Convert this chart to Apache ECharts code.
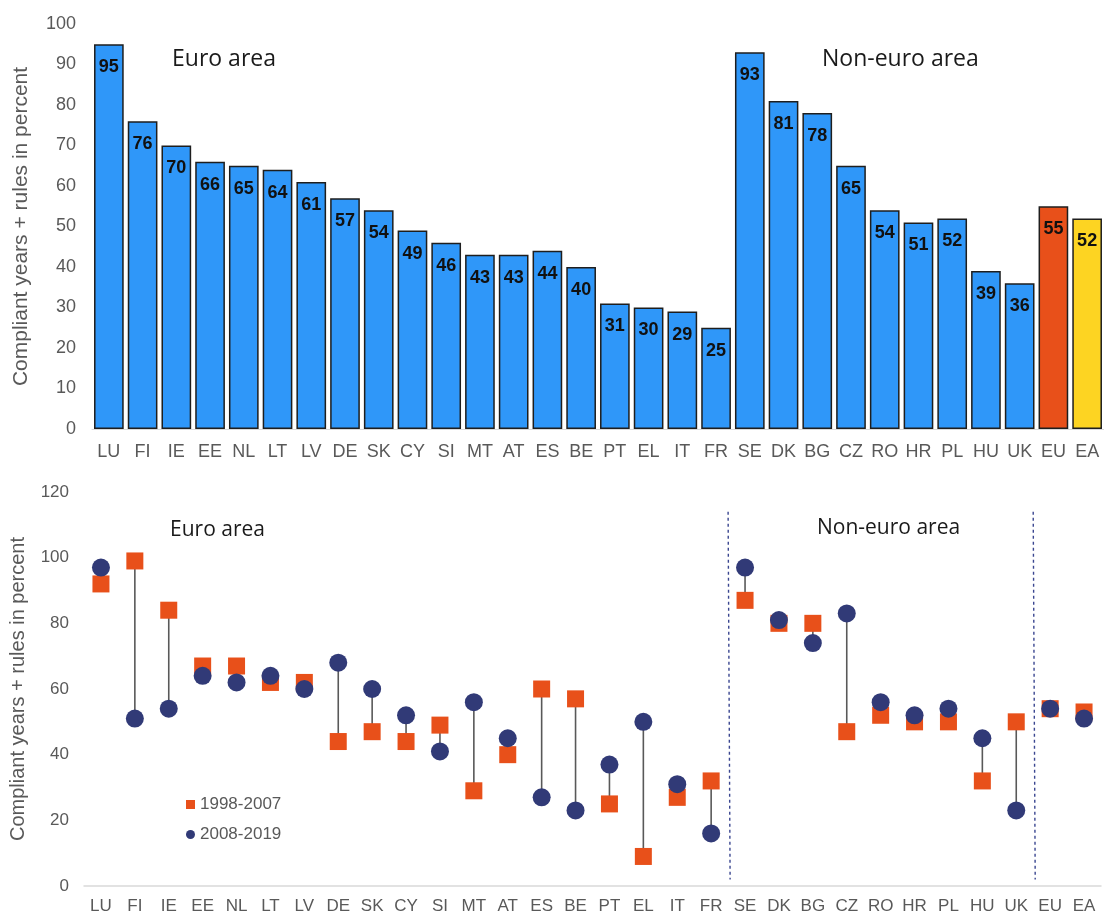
<!DOCTYPE html>
<html>
<head>
<meta charset="utf-8">
<script src="https://cdn.jsdelivr.net/npm/echarts@6/dist/echarts.min.js"></script>
<style>
  html, body { margin: 0; padding: 0; background: #fff; }
  #chart { width: 1104px; height: 917px; }
</style>
</head>
<body>
<div id="chart"></div>
<script>
const categories = ['LU','FI','IE','EE','NL','LT','LV','DE','SK','CY','SI','MT','AT','ES','BE','PT','EL','IT','FR','SE','DK','BG','CZ','RO','HR','PL','HU','UK','EU','EA'];
const totalScore = [95,76,70,66,65,64,61,57,54,49,46,43,43,44,40,31,30,29,25,93,81,78,65,54,51,52,39,36,55,52];
const period1 = [92,99,84,67,67,62,62,44,47,44,49,29,40,60,57,25,9,27,32,87,80,80,47,52,50,50,32,50,54,53];
const period2 = [97,51,54,64,62,64,60,68,60,52,41,56,45,27,23,37,50,31,16,97,81,74,83,56,52,54,45,23,54,51];
const topTicks = { min: 0, max: 100, interval: 10 };
const bottomTicks = { min: 0, max: 120, interval: 20 };
const separators = [[18, 19], [27, 28]];
const seriesNames = ['1998-2007', '2008-2019'];

const BLUE = '#2F97F9', ORANGE = '#E8501A', YELLOW = '#FDD422', NAVY = '#313A77';
const GREY = '#595959';
const AX_FONT = 'Liberation Sans';
const TITLE_FONT = 'Open Sans';

const barData = totalScore.map((v, i) => {
  let color = BLUE;
  if (categories[i] === 'EU') color = ORANGE;
  if (categories[i] === 'EA') color = YELLOW;
  return { value: v, itemStyle: { color: color } };
});

const chart = echarts.init(document.getElementById('chart'), null, { renderer: 'canvas' });

const option = {
  animation: false,
  backgroundColor: '#fff',
  grid: [
    { left: 92, right: 0, top: 24, bottom: 488 },
    { left: 82, right: 3, top: 492, bottom: 31 }
  ],
  legend: {
    data: [
      { name: seriesNames[0], icon: 'rect' },
      { name: seriesNames[1], icon: 'circle' }
    ],
    orient: 'vertical',
    left: 181,
    top: 791,
    itemWidth: 9,
    itemHeight: 9,
    itemGap: 13,
    textStyle: { color: GREY, fontSize: 17, fontFamily: AX_FONT }
  },
  xAxis: [
    {
      gridIndex: 0, type: 'category', data: categories,
      axisTick: { show: false },
      axisLine: { lineStyle: { color: '#d9d9d9' } },
      axisLabel: { color: GREY, fontSize: 18, fontFamily: AX_FONT, margin: 14, interval: 0 }
    },
    {
      gridIndex: 1, type: 'category', data: categories,
      axisTick: { show: false },
      axisLine: { lineStyle: { color: '#d9d9d9', width: 1.5 } },
      axisLabel: { color: GREY, fontSize: 17, fontFamily: AX_FONT, margin: 12, interval: 0 }
    }
  ],
  yAxis: [
    {
      gridIndex: 0, type: 'value', min: topTicks.min, max: topTicks.max, interval: topTicks.interval,
      splitLine: { show: false }, axisLine: { show: false }, axisTick: { show: false },
      axisLabel: { color: GREY, fontSize: 18, fontFamily: AX_FONT, margin: 16 },
      name: 'Compliant years + rules in percent', nameLocation: 'middle', nameGap: 60,
      nameTextStyle: { color: GREY, fontSize: 21, fontFamily: AX_FONT }
    },
    {
      gridIndex: 1, type: 'value', min: bottomTicks.min, max: bottomTicks.max, interval: bottomTicks.interval,
      splitLine: { show: false }, axisLine: { show: false }, axisTick: { show: false },
      axisLabel: { color: GREY, fontSize: 17, fontFamily: AX_FONT, margin: 15 },
      name: 'Compliant years + rules in percent', nameLocation: 'middle', nameGap: 56,
      nameTextStyle: { color: GREY, fontSize: 20, fontFamily: AX_FONT }
    }
  ],
  series: [
    {
      type: 'bar', xAxisIndex: 0, yAxisIndex: 0,
      data: barData,
      barCategoryGap: '12%',
      itemStyle: { borderColor: '#1e1e1e', borderWidth: 1.5 },
      label: {
        show: true, position: 'insideTop', distance: 14,
        color: '#111', fontWeight: 'bold', fontSize: 18, fontFamily: AX_FONT
      }
    },
    {
      type: 'custom', xAxisIndex: 1, yAxisIndex: 1, silent: true, z: 1,
      data: categories.map((c, i) => [i, period1[i], period2[i]]),
      encode: { x: 0, y: [1, 2] },
      renderItem: function (params, api) {
        const a = api.coord([api.value(0), api.value(1)]);
        const b = api.coord([api.value(0), api.value(2)]);
        return {
          type: 'line',
          shape: { x1: a[0], y1: a[1], x2: b[0], y2: b[1] },
          style: { stroke: GREY, lineWidth: 1.6 }
        };
      }
    },
    {
      type: 'custom', xAxisIndex: 1, yAxisIndex: 1, silent: true, z: 1,
      data: separators,
      encode: { x: 0 },
      renderItem: function (params, api) {
        const p1 = api.coord([api.value(0), 114]);
        const p2 = api.coord([api.value(1), 2]);
        const x = (p1[0] + p2[0]) / 2;
        return {
          type: 'line',
          shape: { x1: x, y1: p1[1], x2: x + 2, y2: p2[1] },
          style: { stroke: '#3A4690', lineWidth: 1.4, lineDash: [3, 3] }
        };
      }
    },
    {
      name: seriesNames[0], type: 'scatter', xAxisIndex: 1, yAxisIndex: 1, z: 3,
      symbol: 'rect', symbolSize: 17,
      itemStyle: { color: ORANGE, opacity: 1 },
      data: period1
    },
    {
      name: seriesNames[1], type: 'scatter', xAxisIndex: 1, yAxisIndex: 1, z: 4,
      symbol: 'circle', symbolSize: 18,
      itemStyle: { color: NAVY, opacity: 1 },
      data: period2
    }
  ],
  graphic: [
    { type: 'text', left: 172, top: 48, style: { text: 'Euro area', fontSize: 23, fontFamily: TITLE_FONT, fill: '#1a1a1a' } },
    { type: 'text', left: 822, top: 48, style: { text: 'Non-euro area', fontSize: 23, fontFamily: TITLE_FONT, fill: '#1a1a1a' } },
    { type: 'text', left: 170, top: 520, style: { text: 'Euro area', fontSize: 21, fontFamily: TITLE_FONT, fill: '#1a1a1a' } },
    { type: 'text', left: 817, top: 518, style: { text: 'Non-euro area', fontSize: 21, fontFamily: TITLE_FONT, fill: '#1a1a1a' } }
  ]
};

chart.setOption(option);
</script>
</body>
</html>
